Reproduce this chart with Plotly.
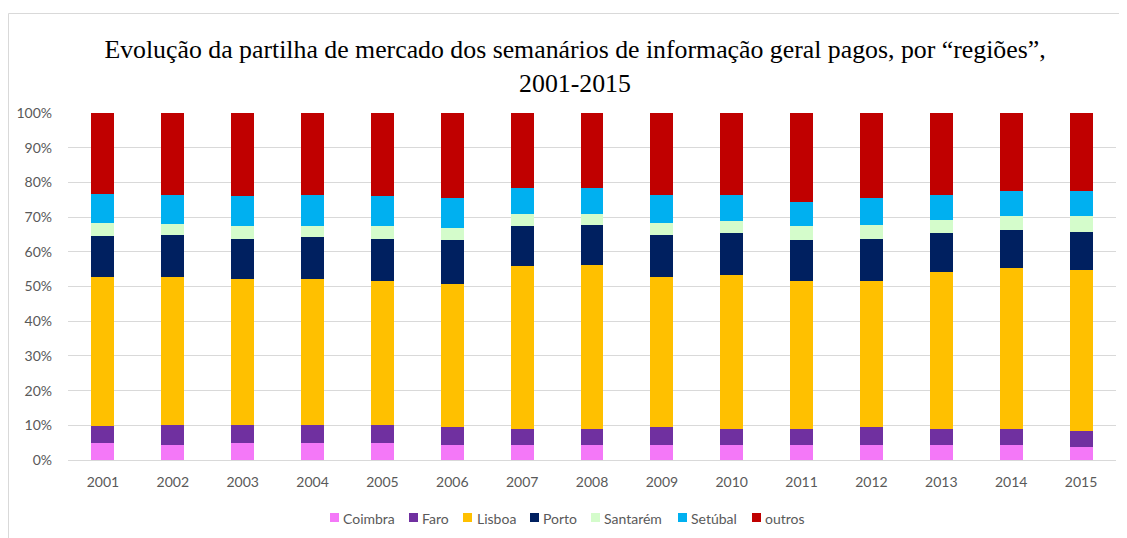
import plotly.graph_objects as go

years = ["2001", "2002", "2003", "2004", "2005", "2006", "2007", "2008",
         "2009", "2010", "2011", "2012", "2013", "2014", "2015"]

coimbra  = [4.8, 4.4, 4.8, 4.8, 4.8, 4.4, 4.4, 4.4, 4.4, 4.4, 4.4, 4.4, 4.4, 4.4, 3.8]
faro     = [5.1, 5.6, 5.2, 5.2, 5.2, 5.0, 4.4, 4.4, 5.0, 4.4, 4.4, 5.0, 4.4, 4.4, 4.5]
lisboa   = [42.7, 42.7, 42.2, 42.2, 41.7, 41.4, 47.0, 47.5, 43.3, 44.4, 42.9, 42.3, 45.4, 46.4, 46.4]
porto    = [12.0, 12.1, 11.6, 12.1, 12.1, 12.5, 11.5, 11.5, 12.0, 12.1, 11.6, 12.1, 11.1, 11.0, 11.1]
santarem = [3.6, 3.1, 3.5, 3.0, 3.5, 3.5, 3.5, 3.0, 3.6, 3.5, 4.0, 4.0, 4.0, 4.1, 4.5]
setubal  = [8.5, 8.4, 8.7, 9.0, 8.7, 8.6, 7.7, 7.7, 8.2, 7.7, 7.1, 7.6, 7.2, 7.1, 7.1]
outros   = [23.3, 23.7, 24.0, 23.7, 24.0, 24.6, 21.5, 21.5, 23.5, 23.5, 25.6, 24.6, 23.5, 22.6, 22.6]

series_names = ["Coimbra", "Faro", "Lisboa", "Porto", "Santarém", "Setúbal", "outros"]
series_values = [coimbra, faro, lisboa, porto, santarem, setubal, outros]
colors = ["#F478F8", "#7030A0", "#FFC000", "#002060", "#D4FCCB", "#00B0F0", "#C00000"]

# page body has an 8px margin: the figure starts at screen (8, 8)
OFF = 8
W, H = 1127 - OFF, 538 - OFF
# plot area in screen pixels: x 68..1116, y 113..460
SX0, SX1, SY0, SY1 = 68, 1116, 113, 460
L, R = SX0 - OFF, W - (SX1 - OFF)
T, B = SY0 - OFF, H - (SY1 - OFF)
PW, PH = W - L - R, H - T - B


def px_x(sx):
    return (sx - SX0) / PW


def px_y(sy):
    return (SY1 - sy) / PH


fig = go.Figure()
for name, vals, col in zip(series_names, series_values, colors):
    fig.add_trace(go.Bar(x=years, y=vals, name=name, marker_color=col,
                         marker_line_width=0, showlegend=False))

tick_vals = [0, 10, 20, 30, 40, 50, 60, 70, 80, 90, 100]
tick_text = [f"{v}%" for v in tick_vals]

# custom compact legend (Excel style), screen pixel positions
legend_square_px = [330, 409, 463, 530, 591, 678, 752]
legend_text_px = [342, 421, 476, 542, 603, 690, 764]
shapes = [dict(type="rect", xref="paper", yref="paper",
               x0=px_x(OFF + 0.5), x1=px_x(1160), y0=px_y(570), y1=px_y(13.5),
               line=dict(color="#D9D9D9", width=1), layer="below")]
annotations = []
for name, col, sx, tx in zip(series_names, colors, legend_square_px, legend_text_px):
    shapes.append(dict(type="rect", xref="paper", yref="paper",
                       x0=px_x(sx), x1=px_x(sx + 9), y0=px_y(522), y1=px_y(513),
                       fillcolor=col, line=dict(width=0)))
    annotations.append(dict(text=name, xref="paper", yref="paper",
                            x=px_x(tx - 1), y=px_y(518), xanchor="left", yanchor="middle",
                            showarrow=False,
                            font=dict(family="Lato, Carlito, Calibri, sans-serif",
                                      size=14, color="#595959")))

fig.update_layout(
    barmode="stack",
    bargap=0.671,
    width=W, height=H,
    margin=dict(l=L, r=R, t=T, b=B, autoexpand=False),
    paper_bgcolor="white",
    plot_bgcolor="white",
    font=dict(family="Lato, Carlito, Calibri, sans-serif", size=14, color="#595959"),
    title=dict(
        text="Evolução da partilha de mercado dos semanários de informação geral pagos, por “regiões”,<br>2001-2015",
        font=dict(family="Liberation Serif, Times New Roman, serif", size=25.8, color="black"),
        x=(575 - OFF) / W, xanchor="center", xref="container",
        y=1 - 50 / H, yanchor="top", yref="container",
    ),
    xaxis=dict(showgrid=False, showline=False, ticks="", automargin=False,
               ticklabelstandoff=12,
               tickfont=dict(size=14, color="#595959")),
    yaxis=dict(range=[0, 100], tickvals=tick_vals, ticktext=tick_text,
               showgrid=True, gridcolor="#D9D9D9", gridwidth=1,
               zeroline=True, zerolinecolor="#D9D9D9", zerolinewidth=1,
               showline=False, ticks="", ticklabelstandoff=15, automargin=False,
               tickfont=dict(size=14, color="#595959")),
    showlegend=False,
    shapes=shapes,
    annotations=annotations,
)

fig.write_html("out.html")
